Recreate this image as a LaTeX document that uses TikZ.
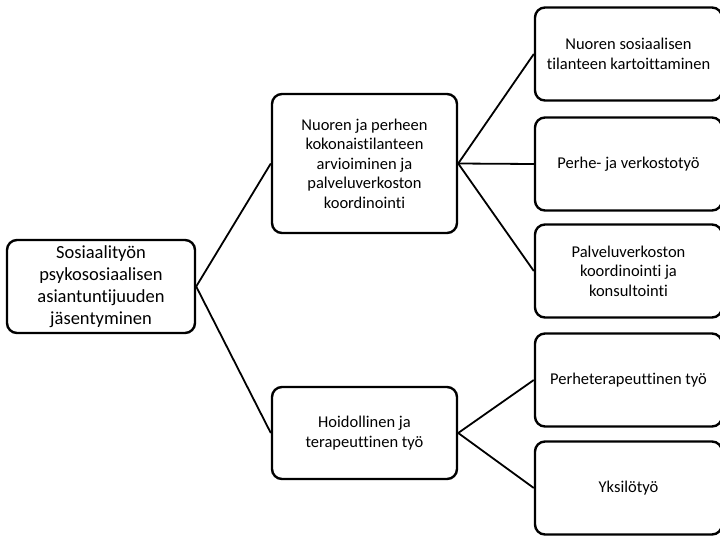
\documentclass[tikz,border=0pt]{standalone}
\usepackage{fontspec}
\setmainfont{Carlito}[Ligatures={NoCommon}]
\begin{document}
\begin{tikzpicture}[x=1pt,y=-1pt,
  box/.style={draw, line width=2.4pt, rounded corners=10pt, align=center, inner sep=0pt,
    font=\fontsize{16.5}{19.5}\selectfont},
  rbox/.style={box, minimum width=187pt, minimum height=93pt},
  conn/.style={line width=1.8pt}]
\useasboundingbox (0,0) rectangle (720,536);
\node[box, minimum width=188pt, minimum height=93pt, font=\fontsize{18.5}{22}\selectfont] (root) at (101,286.5)
  {Sosiaalityön\\psykososiaalisen\\asiantuntijuuden\\jäsentyminen};
\node[box, minimum width=185pt, minimum height=139pt] (m1) at (364.5,163.5)
  {Nuoren ja perheen\\kokonaistilanteen\\arvioiminen ja\\palveluverkoston\\koordinointi};
\node[box, minimum width=185pt, minimum height=92pt] (m2) at (364.5,433)
  {Hoidollinen ja\\terapeuttinen työ};
\node[rbox] (r1) at (628.5,54) {Nuoren sosiaalisen\\tilanteen kartoittaminen};
\node[rbox] (r2) at (628.5,164) {Perhe- ja verkostotyö};
\node[rbox] (r3) at (628.5,271) {Palveluverkoston\\koordinointi ja\\konsultointi};
\node[rbox] (r4) at (628.5,380) {Perheterapeuttinen työ};
\node[rbox] (r5) at (628.5,488) {Yksilötyö};
\draw[conn] (root.east) -- (m1.west);
\draw[conn] (root.east) -- (m2.west);
\draw[conn] (m1.east) -- (r1.west);
\draw[conn] (m1.east) -- (r2.west);
\draw[conn] (m1.east) -- (r3.west);
\draw[conn] (m2.east) -- (r4.west);
\draw[conn] (m2.east) -- (r5.west);
\end{tikzpicture}
\end{document}
